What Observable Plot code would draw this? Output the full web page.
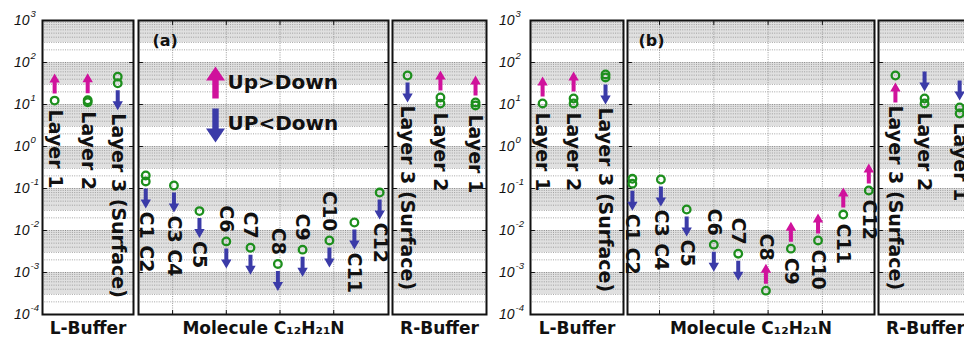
<!DOCTYPE html>
<html><head><meta charset="utf-8">
<script src="https://cdn.jsdelivr.net/npm/d3@7"></script>
<script src="https://cdn.jsdelivr.net/npm/@observablehq/plot@0.6"></script>
<style>
body{margin:0;overflow:hidden;background:#fff;}
#wrap{position:relative;width:964px;height:342px;overflow:hidden;background:#fff;}
.p{position:absolute;top:0;}
</style></head><body><div id="wrap"></div>
<script>
// ---------------- data ----------------
const yTicks = [1e-4, 1e-3, 1e-2, 1e-1, 1, 10, 100, 1000];
const yTickExponents = ["-4", "-3", "-2", "-1", "0", "1", "2", "3"];
const moleculeNames = ["C1 C2", "C3 C4", "C5", "C6", "C7", "C8", "C9", "C10", "C11", "C12"];
const moleculeX = [1, 2.05, 3, 4, 4.9, 5.92, 6.84, 7.84, 8.77, 9.71];
const moleculeGridX = [2, 4, 6, 8];
const leftBufferNames = ["Layer 1", "Layer 2", "Layer 3 (Surface)"];
const rightBufferNames = ["Layer 3 (Surface)", "Layer 2", "Layer 1"];
const xLabels = ["L-Buffer", "Molecule C\u2081\u2082H\u2082\u2081N", "R-Buffer"];
const legendLabels = ["Up>Down", "UP<Down"];
const panelTags = ["(a)", "(b)"];

// panel (a)
const aLeftX = [0.4, 1.49, 2.48];
const aLeftValue1 = [12.4, 12.6, 46];
const aLeftValue2 = [null, 11.3, 32];
const aLeftDir = ["up", "up", "down"];
const aLeftArrowSide = ["above", "above", "below"];
const aLeftLabelSide = ["below", "below", "below"];

const aMolValue1 = [0.204, 0.118, 0.029, 0.0055, 0.0039, 0.0016, 0.0035, 0.0058, 0.0155, 0.080];
const aMolValue2 = [0.147, null, null, null, null, null, null, null, null, null];
const aMolDir = ["down", "down", "down", "down", "down", "down", "down", "down", "down", "down"];
const aMolArrowSide = ["below", "below", "below", "below", "below", "below", "below", "below", "below", "below"];
const aMolLabelSide = ["below", "below", "below", "above", "above", "above", "above", "above", "below", "below"];

const aRightX = [0.48, 1.53, 2.65];
const aRightValue1 = [49, 14.7, 11.2];
const aRightValue2 = [null, 10.5, 9.5];
const aRightDir = ["down", "up", "up"];
const aRightArrowSide = ["below", "above", "above"];
const aRightLabelSide = ["below", "below", "below"];

// panel (b)
const bLeftX = [0.39, 1.39, 2.42];
const bLeftValue1 = [10.6, 13.9, 52];
const bLeftValue2 = [null, 10.6, 44];
const bLeftDir = ["up", "up", "down"];
const bLeftArrowSide = ["above", "above", "below"];
const bLeftLabelSide = ["below", "below", "below"];

const bMolValue1 = [0.17, 0.164, 0.0316, 0.0046, 0.0028, 0.00037, 0.0037, 0.0058, 0.024, 0.0895];
const bMolValue2 = [0.13, null, null, null, null, null, null, null, null, null];
const bMolDir = ["down", "down", "down", "down", "down", "up", "up", "up", "up", "up"];
const bMolArrowSide = ["below", "below", "below", "below", "below", "above", "above", "above", "above", "above"];
const bMolLabelSide = ["below", "below", "below", "above", "above", "above", "below", "below", "below", "below"];

const bRightX = [0.54, 1.47, 2.59];
const bRightValue1 = [49, 13.9, 8.5];
const bRightValue2 = [null, 10.6, 6.1];
const bRightDir = ["up", "down", "down"];
const bRightArrowSide = ["below", "above", "above"];
const bRightLabelSide = ["below", "below", "below"];

// ---------------- style ----------------
const MAGENTA = "#d0129c", BLUE = "#3b3ba8", GREEN = "#1d8f1d";
const ARROW_LEN = 20, GAP = 7;
const LABEL_FONT = "DejaVu Sans";

function arrowShape(sw, hw, hl) {
  return {draw(ctx, l) {
    ctx.moveTo(-sw, 0); ctx.lineTo(-sw, -(l - hl)); ctx.lineTo(-hw, -(l - hl));
    ctx.lineTo(0, -l); ctx.lineTo(hw, -(l - hl)); ctx.lineTo(sw, -(l - hl));
    ctx.lineTo(sw, 0); ctx.closePath();
  }};
}
const smallArrow = arrowShape(2, 5.2, 9);
const bigArrow = arrowShape(3.2, 9.5, 14);
const tickShape = {draw(ctx, l) { ctx.moveTo(0, 0); ctx.lineTo(0, -l); }};

function buildItems(names, xs, v1, v2, dir, arrowSide, labelSide) {
  return names.map((name, i) => ({
    name, x: xs[i], top: v1[i], low: v2[i] == null ? v1[i] : v2[i],
    dir: dir[i], arrowSide: arrowSide[i], labelSide: labelSide[i],
    values: v2[i] == null ? [v1[i]] : [v1[i], v2[i]]
  }));
}

const bandData = yTicks.slice(0, -1).map((t, k) => ({lo: 3 * t, hi: yTicks[k + 1]}));
const minorData = yTicks.slice(0, -1).flatMap(t => [2, 3, 4, 5, 6, 7, 8, 9].map(m => m * t));

function panel({left, boxWidth, mL = 2, mR = 2, xDomain, items, xLabel, gridX, tag, legend, yLabelDx}) {
  const marks = [];
  marks.push(Plot.rect(bandData, {x1: () => xDomain[0], x2: () => xDomain[1], y1: "lo", y2: "hi", fill: "#e0e0e0"}));
  marks.push(Plot.ruleY(minorData, {stroke: "#8e8e8e", strokeWidth: 0.8, strokeDasharray: "1,1.3"}));
  marks.push(Plot.ruleY(yTicks, {stroke: "#808080", strokeWidth: 0.9, strokeDasharray: "1,1.3"}));
  if (gridX) {
    marks.push(Plot.ruleX(gridX, {stroke: "#909090", strokeWidth: 0.9, strokeDasharray: "1,1.3"}));
    marks.push(Plot.vector(gridX, {x: d => d, frameAnchor: "top", length: 4, rotate: 180, anchor: "start", shape: tickShape, stroke: "#111", strokeWidth: 1}));
    marks.push(Plot.vector(gridX, {x: d => d, frameAnchor: "bottom", length: 4, rotate: 0, anchor: "start", shape: tickShape, stroke: "#111", strokeWidth: 1}));
  }
  marks.push(Plot.vector(yTicks.slice(1, -1), {y: d => d, frameAnchor: "left", length: 4, rotate: 90, anchor: "start", shape: tickShape, stroke: "#111", strokeWidth: 1}));
  marks.push(Plot.vector(yTicks.slice(1, -1), {y: d => d, frameAnchor: "right", length: 4, rotate: -90, anchor: "start", shape: tickShape, stroke: "#111", strokeWidth: 1}));
  marks.push(Plot.frame({stroke: "#111", strokeWidth: 2}));

  if (yLabelDx != null) {
    marks.push(Plot.text(yTicks, {y: d => d, text: () => "10", frameAnchor: "left", dx: yLabelDx, textAnchor: "end", lineAnchor: "middle", fontSize: 14, fontStyle: "italic", fontFamily: "Liberation Sans", fill: "#111"}));
    marks.push(Plot.text(yTicks, {y: d => d, text: (d, i) => yTickExponents[i], frameAnchor: "left", dx: yLabelDx + 1, dy: -7, textAnchor: "start", lineAnchor: "middle", fontSize: 9.5, fontStyle: "italic", fontFamily: "Liberation Sans", fill: "#111"}));
  }

  // circles
  const circles = items.flatMap(d => d.values.map(v => ({x: d.x, v})));
  marks.push(Plot.dot(circles, {x: "x", y: "v", r: 3.8, stroke: GREEN, strokeWidth: 2.3, fill: "none"}));

  // arrows
  const combos = [
    {dir: "up", side: "above", dy: -GAP, rotate: 0, key: "top"},
    {dir: "up", side: "below", dy: GAP + ARROW_LEN, rotate: 0, key: "low"},
    {dir: "down", side: "above", dy: -(GAP + ARROW_LEN), rotate: 180, key: "top"},
    {dir: "down", side: "below", dy: GAP, rotate: 180, key: "low"}
  ];
  for (const c of combos) {
    marks.push(Plot.vector(items.filter(d => d.dir === c.dir && d.arrowSide === c.side), {
      x: "x", y: c.key, length: ARROW_LEN, rotate: c.rotate, anchor: "start", dy: c.dy,
      shape: smallArrow, fill: c.dir === "up" ? MAGENTA : BLUE, stroke: "none"
    }));
  }

  // labels
  const lab = [
    {ls: "below", as: "below", key: "low", dy: GAP + ARROW_LEN + 3, anchor: "start"},
    {ls: "below", as: "above", key: "low", dy: 9, anchor: "start"},
    {ls: "above", as: "above", key: "top", dy: -(GAP + ARROW_LEN + 3), anchor: "end"},
    {ls: "above", as: "below", key: "top", dy: -9, anchor: "end"}
  ];
  for (const c of lab) {
    marks.push(Plot.text(items.filter(d => d.labelSide === c.ls && d.arrowSide === c.as), {
      x: "x", y: c.key, text: "name", rotate: 90, dy: c.dy, textAnchor: c.anchor, lineAnchor: "middle",
      fontSize: 19, fontWeight: "bold", fontFamily: LABEL_FONT, fill: "#111"
    }));
  }

  marks.push(Plot.text([xLabel], {text: d => d, frameAnchor: "bottom", dy: 14, lineAnchor: "middle", fontSize: 17, fontWeight: "bold", fontFamily: LABEL_FONT, fill: "#111"}));

  if (tag) {
    marks.push(Plot.text([tag.text], {text: d => d, frameAnchor: "top-left", dx: tag.dx, dy: 20, textAnchor: "start", lineAnchor: "middle", fontSize: 16, fontWeight: "bold", fontFamily: LABEL_FONT, fill: "#111"}));
  }
  if (legend) {
    marks.push(Plot.vector([0], {frameAnchor: "top-left", dx: 77, dy: 78, length: 32, rotate: 0, anchor: "start", shape: bigArrow, fill: MAGENTA, stroke: "none"}));
    marks.push(Plot.vector([0], {frameAnchor: "top-left", dx: 77, dy: 88, length: 34, rotate: 180, anchor: "start", shape: bigArrow, fill: BLUE, stroke: "none"}));
    marks.push(Plot.text([legendLabels[0]], {text: d => d, frameAnchor: "top-left", dx: 89, dy: 62, textAnchor: "start", lineAnchor: "middle", fontSize: 20, fontWeight: "bold", fontFamily: LABEL_FONT, fill: "#111"}));
    marks.push(Plot.text([legendLabels[1]], {text: d => d, frameAnchor: "top-left", dx: 89, dy: 103, textAnchor: "start", lineAnchor: "middle", fontSize: 20, fontWeight: "bold", fontFamily: LABEL_FONT, fill: "#111"}));
  }

  const chart = Plot.plot({
    width: boxWidth + mL + mR, height: 342,
    marginTop: 20, marginBottom: 28, marginLeft: mL, marginRight: mR,
    x: {domain: xDomain, axis: null},
    y: {type: "log", domain: [1e-4, 1e3], axis: null},
    style: {background: "transparent", overflow: "visible"},
    marks
  });
  const div = document.createElement("div");
  div.className = "p";
  div.style.left = (left - mL) + "px";
  div.style.width = (boxWidth + mL + mR) + "px";
  div.appendChild(chart);
  document.getElementById("wrap").appendChild(div);
}

const bufDomain = [0, 3];
const aMolDomain = [0.73, 10.04];
const bMolDomain = [0.82, 9.92];

panel({left: 42, boxWidth: 91, mL: 42, xDomain: bufDomain, xLabel: xLabels[0], yLabelDx: -13,
  items: buildItems(leftBufferNames, aLeftX, aLeftValue1, aLeftValue2, aLeftDir, aLeftArrowSide, aLeftLabelSide)});
panel({left: 138, boxWidth: 250, xDomain: aMolDomain, xLabel: xLabels[1], gridX: moleculeGridX, tag: {text: panelTags[0], dx: 14}, legend: true,
  items: buildItems(moleculeNames, moleculeX, aMolValue1, aMolValue2, aMolDir, aMolArrowSide, aMolLabelSide)});
panel({left: 392, boxWidth: 94, xDomain: bufDomain, xLabel: xLabels[2],
  items: buildItems(rightBufferNames, aRightX, aRightValue1, aRightValue2, aRightDir, aRightArrowSide, aRightLabelSide)});

panel({left: 530, boxWidth: 93, mL: 40, xDomain: bufDomain, xLabel: xLabels[0], yLabelDx: -16,
  items: buildItems(leftBufferNames, bLeftX, bLeftValue1, bLeftValue2, bLeftDir, bLeftArrowSide, bLeftLabelSide)});
panel({left: 627, boxWidth: 247, xDomain: bMolDomain, xLabel: xLabels[1], gridX: moleculeGridX, tag: {text: panelTags[1], dx: 11},
  items: buildItems(moleculeNames, moleculeX, bMolValue1, bMolValue2, bMolDir, bMolArrowSide, bMolLabelSide)});
panel({left: 878, boxWidth: 94, xDomain: bufDomain, xLabel: xLabels[2],
  items: buildItems(rightBufferNames, bRightX, bRightValue1, bRightValue2, bRightDir, bRightArrowSide, bRightLabelSide)});
</script></body></html>
